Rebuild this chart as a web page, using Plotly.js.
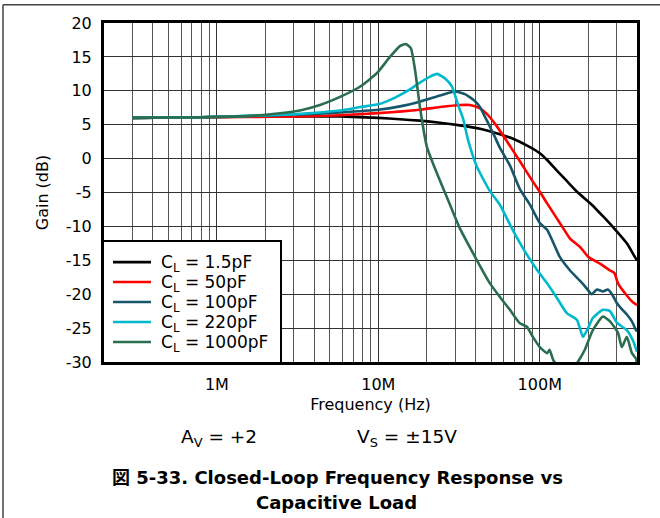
<!DOCTYPE html>
<html><head><meta charset="utf-8">
<script src="https://cdn.plot.ly/plotly-3.0.1.min.js"></script>
<style>html,body{margin:0;padding:0;background:#fff;}#chart{width:660px;height:518px;}</style>
</head><body><div id="chart"></div>
<script>
// Series names (legend)
const seriesNames = ['C<sub>L</sub> = 1.5pF','C<sub>L</sub> = 50pF','C<sub>L</sub> = 100pF','C<sub>L</sub> = 220pF','C<sub>L</sub> = 1000pF'];
const seriesColors = ['#000000','#ff0000','#15566a','#00b9cc','#2b6e4f'];

// Frequency in MHz, gain in dB
const f15 = [0.3,0.79,1.6,3.27,5.79,10,13.6,18.1,24.1,32,42.6,56.6,67.2,86.9,100,111,128,147,172,210,246,284,346,388,400];
const g15 = [6.0,6.1,6.2,6.2,6.2,6.0,5.8,5.6,5.3,4.9,4.4,3.6,3.0,1.7,0.8,-0.2,-1.8,-3.3,-5.0,-6.8,-8.5,-10.1,-12.5,-14.5,-15.0];

const f50 = [0.3,0.79,3.27,5.79,10,18.1,24.1,32,36.9,42.6,46.5,53.7,62,75.3,90.6,100,111,140,154,177,200,236,272,290,305,346,377,400];
const g50 = [6.0,6.1,6.2,6.4,6.7,7.2,7.6,7.9,7.9,7.4,6.7,4.9,2.7,-0.4,-3.4,-4.9,-6.6,-10.3,-11.8,-13.0,-14.5,-15.5,-16.5,-16.9,-18.4,-20.2,-21.2,-21.6];

const f100 = [0.3,0.79,3.27,5.79,10,13.6,18.1,24.1,29.8,34.4,39.6,42.6,45.7,49.1,52.7,56.6,65.3,75.3,86.9,100,111,133,154,177,190,210,226,246,264,280,300,322,346,372,394,400];
const g100 = [6.0,6.1,6.5,6.8,7.2,7.7,8.4,9.3,9.9,9.5,8.5,7.6,6.2,4.7,3.2,1.6,-1.0,-4.5,-6.8,-9.5,-10.5,-14.5,-16.5,-18.0,-18.8,-20.0,-19.3,-19.6,-19.3,-20.0,-21.3,-22.2,-23.0,-24.0,-25.3,-25.5];

const f220 = [0.3,0.79,1.6,3.27,5.79,7.69,10,12.7,15.7,18.1,20.9,23.1,25.9,28.6,31.1,33.4,35.9,40.8,49.1,56.6,67.2,78.6,96,111,128,147,170,185,199,213,246,272,300,346,377,400];
const g220 = [6.0,6.1,6.3,6.6,7.1,7.6,8.0,9.0,10.2,11.2,12.1,12.5,11.8,10.6,8.0,6.0,2.8,-1.2,-4.8,-6.8,-10.3,-13.2,-16.4,-18.4,-20.6,-22.8,-23.8,-26.3,-25.0,-23.5,-22.3,-22.5,-24.2,-25.3,-26.8,-28.5];

const f1000 = [0.3,0.79,1.6,2.46,3.27,4.35,5.79,7.69,9.8,11.8,13.6,14.8,15.9,16.9,18.1,20,23.1,26.6,32,40.8,49.1,56.6,65.3,75.3,83.2,90.6,100,111,115,121,133,154,172,190,213,246,272,305,322,346,372,394,400];
const g1000 = [6.0,6.1,6.3,6.7,7.1,7.9,9.1,10.6,12.6,15.0,16.6,16.9,16.3,13.0,7.6,1.7,-2.2,-5.7,-10.3,-15.0,-18.4,-20.4,-22.3,-24.3,-24.8,-26.3,-27.8,-28.7,-28.2,-29.7,-31.0,-31.5,-30.0,-28.2,-25.3,-23.3,-24.0,-25.7,-27.8,-26.3,-28.7,-29.5,-30.5];

const freqs = [f15,f50,f100,f220,f1000];
const gains = [g15,g50,g100,g220,g1000];

// Axis ticks
const xTickVals = [1e6,1e7,1e8];
const xTickText = ['1M','10M','100M'];
const xDecades = [1e5,1e6,1e7,1e8];
const yTickVals = [20,15,10,5,0,-5,-10,-15,-20,-25,-30];
const yTickText = ['20','15','10','5','0','-5','-10','-15','-20','-25','-30'];

const minorVals = [];
xDecades.forEach(d => { for (let m = 2; m <= 9; m++) minorVals.push(d*m); });

const traces = freqs.map((fr,i) => ({
  x: fr.map(v => v*1e6),
  y: gains[i],
  type: 'scatter', mode: 'lines',
  name: seriesNames[i],
  showlegend: false,
  line: {color: seriesColors[i], width: 2.6, shape: 'spline', smoothing: 0.5}
}));

// pixel -> paper helpers for the plot area (l=104, r=637, t=22.7, b=362)
const PL = 104, PW = 533, PB = 362, PH = 339.3;
const px = x => (x - PL) / PW;
const py = y => (PB - y) / PH;

const FONT = 'DejaVu Sans, Noto Sans CJK JP, sans-serif';

// Legend drawn as a framed box with line swatches and labels
const legShapes = [{type:'rect', xref:'paper', yref:'paper', x0:px(103), x1:px(281), y0:py(363), y1:py(241),
  fillcolor:'#fff', line:{color:'#000', width:2}, layer:'above'}];
const legAnn = [];
seriesNames.forEach((nm,i) => {
  const yy = 262 + i*20;
  legShapes.push({type:'line', xref:'paper', yref:'paper', x0:px(113), x1:px(151), y0:py(yy), y1:py(yy),
    line:{color:seriesColors[i], width:2.6}, layer:'above'});
  legAnn.push({xref:'paper', yref:'paper', x:px(159), y:py(yy+1), text:nm, showarrow:false,
    xanchor:'left', yanchor:'middle', font:{family:FONT, size:17, color:'#000'}});
});

const layout = {
  width: 660, height: 518,
  margin: {l:104, r:23, t:23, b:156},
  paper_bgcolor: '#fff', plot_bgcolor: '#fff',
  font: {family: FONT, size: 16, color: '#000'},
  showlegend: false,
  xaxis: {
    type:'log', range:[Math.log10(2e5), Math.log10(4e8)],
    tickmode:'array', tickvals:xTickVals, ticktext:xTickText,
    ticks:'', showgrid:true, gridcolor:'#333', gridwidth:1,
    minor:{tickmode:'array', tickvals:minorVals, showgrid:true, gridcolor:'#555', gridwidth:1, ticks:''},
    showline:true, mirror:true, linecolor:'#000', linewidth:3,
    zeroline:false, tickfont:{size:16}, ticklabelstandoff:6,
    title:{text:'Frequency (Hz)', font:{size:16}, standoff:6}
  },
  yaxis: {
    range:[-30,20], tickmode:'array', tickvals:yTickVals, ticktext:yTickText,
    ticks:'', showgrid:true, gridcolor:'#333', gridwidth:1,
    showline:true, mirror:true, linecolor:'#000', linewidth:3,
    zeroline:false, tickfont:{size:16}, ticklabelstandoff:6,
    title:{text:'Gain (dB)', font:{size:16}, standoff:14}
  },
  annotations: legAnn.concat([
    {xref:'paper', yref:'paper', x:px(219), y:py(438), text:'A<sub>V</sub> = +2', showarrow:false, font:{size:18.5}, xanchor:'center', yanchor:'middle'},
    {xref:'paper', yref:'paper', x:px(407), y:py(438), text:'V<sub>S</sub> = ±15V', showarrow:false, font:{size:18.5}, xanchor:'center', yanchor:'middle'},
    {xref:'paper', yref:'paper', x:px(337), y:py(478), text:'<b>図 5-33. Closed-Loop Frequency Response vs</b>', showarrow:false, font:{size:18}, xanchor:'center', yanchor:'middle'},
    {xref:'paper', yref:'paper', x:px(336), y:py(503), text:'<b>Capacitive Load</b>', showarrow:false, font:{size:18}, xanchor:'center', yanchor:'middle'}
  ]),
  shapes: legShapes.concat([
    {type:'line', xref:'paper', yref:'paper', x0:px(3), x1:px(660), y0:py(4.5), y1:py(4.5), line:{color:'#444', width:1.5}},
    {type:'line', xref:'paper', yref:'paper', x0:px(3), x1:px(3), y0:py(4.5), y1:py(520), line:{color:'#444', width:1.5}}
  ])
};

Plotly.newPlot('chart', traces, layout, {displayModeBar:false, staticPlot:true});
</script></body></html>
